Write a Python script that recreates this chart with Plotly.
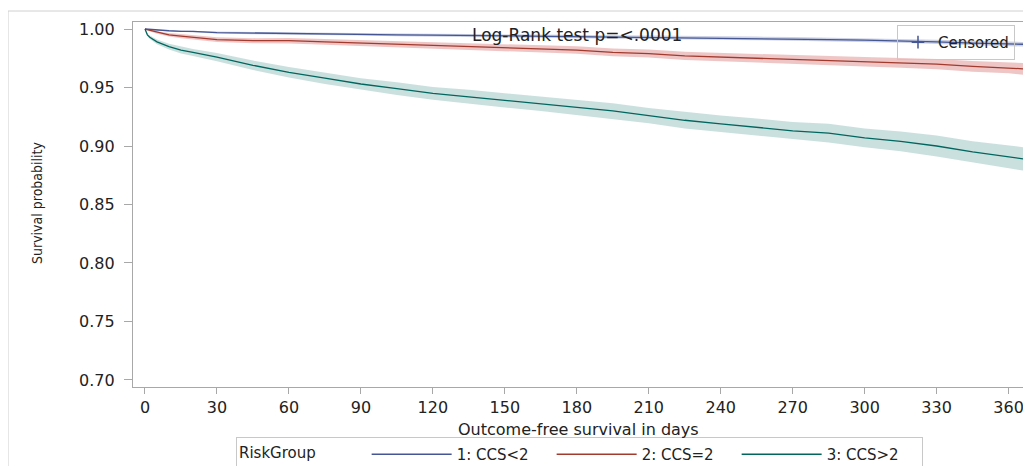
import plotly.graph_objects as go

# ---- data ----
days = [0, 1, 2, 5, 10, 15, 20, 30, 45, 60, 75, 90, 105, 120, 135, 150, 165, 180,
        195, 210, 225, 240, 255, 270, 285, 300, 315, 330, 345, 360, 366]

surv_ccs_lt2 = [1.000, 0.9998, 0.9995, 0.999, 0.9985, 0.998, 0.998, 0.997, 0.9965, 0.996,
                0.9958, 0.9955, 0.995, 0.9948, 0.9945, 0.994, 0.994, 0.9935, 0.9933, 0.993,
                0.9928, 0.9925, 0.992, 0.9915, 0.991, 0.9905, 0.990, 0.989, 0.988, 0.9875, 0.987]
ci_ccs_lt2 = [0, 0.0002, 0.0003, 0.0004, 0.0005, 0.0006, 0.0007, 0.0008, 0.0009, 0.001,
              0.001, 0.0011, 0.0011, 0.0012, 0.0012, 0.0013, 0.0013, 0.0013, 0.0014, 0.0014,
              0.0015, 0.0015, 0.0015, 0.0016, 0.0016, 0.0017, 0.0017, 0.0018, 0.0019, 0.002, 0.002]

surv_ccs_eq2 = [1.000, 0.9995, 0.999, 0.997, 0.995, 0.994, 0.993, 0.991, 0.990, 0.990,
                0.989, 0.988, 0.987, 0.986, 0.985, 0.984, 0.983, 0.982, 0.980, 0.979,
                0.977, 0.976, 0.975, 0.974, 0.973, 0.972, 0.971, 0.970, 0.968, 0.967, 0.966]
ci_ccs_eq2 = [0, 0.0005, 0.0008, 0.001, 0.0015, 0.0018, 0.002, 0.002, 0.0022, 0.0024,
              0.0025, 0.0026, 0.0027, 0.0028, 0.003, 0.003, 0.003, 0.0032, 0.0033, 0.0034,
              0.0035, 0.0035, 0.0037, 0.0038, 0.004, 0.004, 0.0042, 0.0044, 0.0046, 0.0048, 0.005]

surv_ccs_gt2 = [1.000, 0.995, 0.993, 0.989, 0.985, 0.982, 0.980, 0.976, 0.969, 0.963,
                0.958, 0.953, 0.949, 0.945, 0.942, 0.939, 0.936, 0.933, 0.930, 0.926,
                0.922, 0.919, 0.916, 0.913, 0.911, 0.907, 0.904, 0.900, 0.895, 0.891, 0.889]
ci_ccs_gt2 = [0, 0.001, 0.0015, 0.002, 0.0025, 0.003, 0.003, 0.0035, 0.004, 0.0045,
              0.005, 0.005, 0.0055, 0.0055, 0.006, 0.006, 0.006, 0.0065, 0.0065, 0.0065,
              0.007, 0.007, 0.0075, 0.0075, 0.008, 0.008, 0.0085, 0.009, 0.009, 0.0095, 0.01]

group_names = ["1: CCS<2", "2: CCS=2", "3: CCS>2"]
x_ticks = [0, 30, 60, 90, 120, 150, 180, 210, 240, 270, 300, 330, 360]
y_ticks = [0.70, 0.75, 0.80, 0.85, 0.90, 0.95, 1.00]

# ---- styling ----
line_colors = ["#445694", "#A23A2E", "#01665E"]
band_colors = ["rgba(111,126,179,0.35)", "rgba(208,91,91,0.35)", "rgba(102,165,160,0.35)"]
FONT = "DejaVu Sans, Verdana, sans-serif"
NARROW = "Liberation Sans Narrow, DejaVu Sans Condensed, Arial Narrow, sans-serif"
TXT = "#222222"

fig = go.Figure()
series = [(surv_ccs_lt2, ci_ccs_lt2), (surv_ccs_eq2, ci_ccs_eq2), (surv_ccs_gt2, ci_ccs_gt2)]
for i, (s, ci) in enumerate(series):
    lower = [v - c for v, c in zip(s, ci)]
    upper = [v + c for v, c in zip(s, ci)]
    fig.add_trace(go.Scatter(x=days, y=lower, mode="lines", line=dict(width=0),
                             showlegend=False, hoverinfo="skip"))
    fig.add_trace(go.Scatter(x=days, y=upper, mode="lines", line=dict(width=0),
                             fill="tonexty", fillcolor=band_colors[i],
                             showlegend=False, hoverinfo="skip"))
for i, (s, ci) in enumerate(series):
    fig.add_trace(go.Scatter(x=days, y=s, mode="lines", name=group_names[i],
                             line=dict(color=line_colors[i], width=1.3), legend="legend"))

# censored legend entry
fig.add_trace(go.Scatter(x=[None], y=[None], mode="markers", name="Censored",
                         marker=dict(symbol="cross-thin", size=9,
                                     line=dict(width=1.5, color="#445694"),
                                     color="#445694"),
                         legend="legend2"))

axis_common = dict(showline=True, mirror=True, linecolor="#A8A8A8", linewidth=1.2,
                   ticks="outside", tickcolor="#A8A8A8", showgrid=False, zeroline=False,
                   tickfont=dict(family=FONT, size=16, color=TXT))

fig.update_layout(
    width=1023, height=480,
    margin=dict(l=125, r=8, t=14, b=101, autoexpand=False),
    paper_bgcolor="white", plot_bgcolor="white",
    xaxis=dict(range=[-5, 366], tickvals=x_ticks, ticklen=6, ticklabelstandoff=0,
               **axis_common),
    yaxis=dict(range=[0.694, 1.006], tickvals=y_ticks, tickformat=".2f", ticklen=8,
               ticklabelstandoff=6, **axis_common),
    legend=dict(orientation="h", x=0.1157, xanchor="left", y=-0.137, yanchor="top",
                traceorder="normal",
                title=dict(text="RiskGroup         ", side="left",
                           font=dict(family=FONT, size=15, color=TXT)),
                font=dict(family=FONT, size=15, color=TXT),
                bordercolor="#C8C8C8", borderwidth=1, itemwidth=80,
                entrywidth=90, entrywidthmode="pixels",
                tracegroupgap=0),
    legend2=dict(x=0.991, xanchor="right", y=0.992, yanchor="top",
                 font=dict(family=FONT, size=15, color=TXT),
                 bordercolor="#C8C8C8", borderwidth=1, bgcolor="rgba(255,255,255,0)",
                 itemwidth=30),
    showlegend=True,
)

# y-axis title (condensed look of the reference)
fig.add_annotation(text="Survival probability", xref="paper", yref="paper",
                   x=-0.1079, y=0.504, textangle=-90, showarrow=False,
                   xanchor="center", yanchor="middle",
                   font=dict(family=NARROW, size=14, color=TXT))
# x-axis title
fig.add_annotation(text="Outcome-free survival in days", xref="paper", yref="paper",
                   x=0.5, y=-0.116, showarrow=False, xanchor="center", yanchor="middle",
                   font=dict(family=FONT, size=16, color=TXT))
# log-rank annotation
fig.add_annotation(text="Log-Rank test p=<.0001", xref="paper", yref="paper",
                   x=0.499, y=0.964, showarrow=False, xanchor="center", yanchor="middle",
                   font=dict(family=FONT, size=17, color=TXT))

# outer frame of the graphic
fig.add_shape(type="rect", xref="paper", yref="paper",
              x0=-0.1404, x1=1.0079, y0=-0.25, y1=1.0301,
              line=dict(color="#D0D0D0", width=1), layer="below")

fig.write_html("out.html")
